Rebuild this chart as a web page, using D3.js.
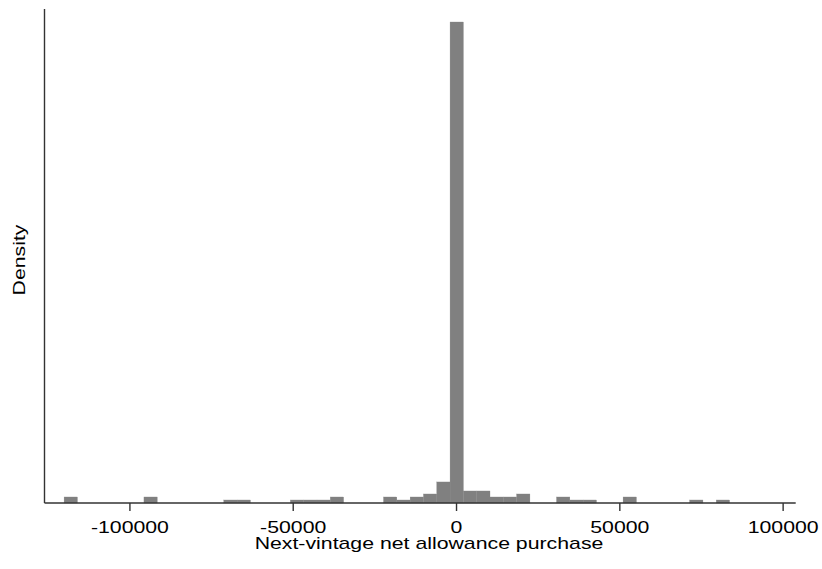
<!DOCTYPE html>
<html>
<head>
<meta charset="utf-8">
<script src="https://cdn.jsdelivr.net/npm/d3@7"></script>
<style>
  html, body { margin: 0; padding: 0; background: #ffffff; }
  svg { display: block; }
  text { font-family: "Liberation Sans", Arial, Helvetica, sans-serif; fill: #000; }
</style>
</head>
<body>
<svg id="chart" width="822" height="569"></svg>
<script>
// ---- data ----
const binStart = -120000;
const binWidth = 4075;
const binCounts = [2, 0, 0, 0, 0, 0, 2, 0, 0, 0, 0, 0, 1, 1, 0, 0, 0, 1, 1, 1,
                   2, 0, 0, 0, 2, 1, 2, 3, 7, 160, 4, 4, 2, 2, 3, 0, 0, 2, 1, 1,
                   0, 0, 2, 0, 0, 0, 0, 1, 0, 1];
const xTickValues = [-100000, -50000, 0, 50000, 100000];
const xTickLabels = ["-100000", "-50000", "0", "50000", "100000"];
const xTitle = "Next-vintage net allowance purchase";
const yTitle = "Density";

// ---- derived ----
const N = d3.sum(binCounts);
const bins = binCounts.map((c, i) => ({
  x0: binStart + i * binWidth,
  x1: binStart + (i + 1) * binWidth,
  density: c / (N * binWidth)
}));

// ---- layout ----
const svg = d3.select("#chart");
const left = 44.5, right = 795.7, bottom = 503, axisTop = 9, barTop = 22;
const fontSize = 16, stretch = 1.33;

const x = d3.scaleLinear().domain([-126000, 104000]).range([left, right]);
const y = d3.scaleLinear().domain([0, d3.max(bins, d => d.density)]).range([bottom, barTop]);

// bars
svg.append("g").selectAll("rect").data(bins.filter(d => d.density > 0)).join("rect")
  .attr("x", d => x(d.x0))
  .attr("width", d => x(d.x1) - x(d.x0))
  .attr("y", d => y(d.density))
  .attr("height", d => y(0) - y(d.density))
  .attr("fill", "#808080")
  .attr("stroke", "#808080")
  .attr("stroke-width", 0.3);

// y axis line (no ticks)
svg.append("line")
  .attr("x1", left).attr("x2", left)
  .attr("y1", axisTop).attr("y2", bottom)
  .attr("stroke", "#333").attr("stroke-width", 1.4);

// x axis
const xAxis = d3.axisBottom(x).tickValues(xTickValues).tickSize(8)
  .tickFormat((d, i) => xTickLabels[i]);
const gx = svg.append("g").attr("transform", `translate(0,${bottom})`).call(xAxis);
gx.select(".domain").remove();
gx.append("line").attr("x1", left).attr("x2", right).attr("y1", 0).attr("y2", 0)
  .attr("stroke", "#333").attr("stroke-width", 1.4);
gx.selectAll(".tick line").attr("stroke", "#333").attr("stroke-width", 1.4);
gx.selectAll(".tick text")
  .attr("y", null).attr("dy", null)
  .attr("font-size", fontSize)
  .attr("fill", "#000")
  .style("font-family", '"Liberation Sans", Arial, sans-serif')
  .attr("text-anchor", "middle")
  .attr("transform", `translate(0,${532.7 - bottom}) scale(${stretch},1)`);

// x title
svg.append("text")
  .attr("transform", `translate(429,549) scale(${stretch},1)`)
  .attr("text-anchor", "middle")
  .attr("font-size", fontSize)
  .text(xTitle);

// y title
svg.append("text")
  .attr("transform", `translate(25,260) rotate(-90) scale(${stretch},1)`)
  .attr("text-anchor", "middle")
  .attr("font-size", fontSize)
  .text(yTitle);
</script>
</body>
</html>
